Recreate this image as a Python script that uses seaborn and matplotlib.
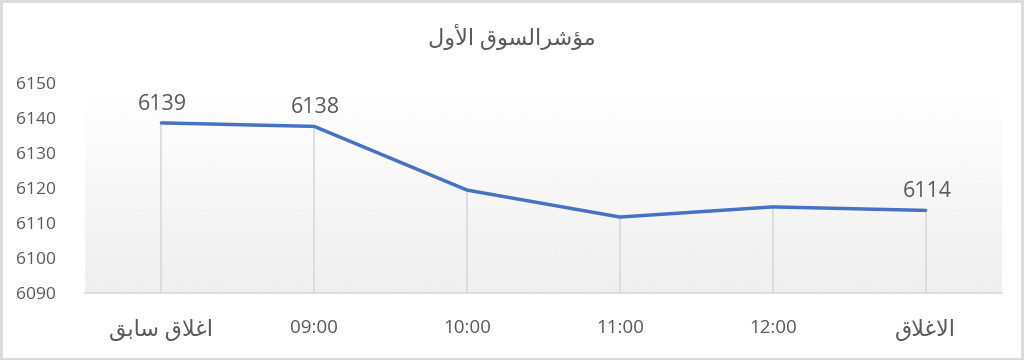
import numpy as np
import pandas as pd
import matplotlib
matplotlib.use("Agg")
import matplotlib.pyplot as plt
import seaborn as sns
from matplotlib.patches import Rectangle

# ---------------- data ----------------
categories = ["اغلاق سابق", "09:00", "10:00", "11:00", "12:00", "الاغلاق"]
values = [6138.6, 6137.6, 6119.4, 6111.7, 6114.6, 6113.6]
labelled_points = [0, 1, 5]
title_text = "مؤشرالسوق الأول"
y_ticks = [6090, 6100, 6110, 6120, 6130, 6140, 6150]

# ---------------- minimal Arabic shaping ----------------
FORMS = {
    'ا': ('\uFE8D', '\uFE8E', None, None),
    'أ': ('\uFE83', '\uFE84', None, None),
    'ب': ('\uFE8F', '\uFE90', '\uFE91', '\uFE92'),
    'ر': ('\uFEAD', '\uFEAE', None, None),
    'س': ('\uFEB1', '\uFEB2', '\uFEB3', '\uFEB4'),
    'ش': ('\uFEB5', '\uFEB6', '\uFEB7', '\uFEB8'),
    'غ': ('\uFECD', '\uFECE', '\uFECF', '\uFED0'),
    'ق': ('\uFED5', '\uFED6', '\uFED7', '\uFED8'),
    'ل': ('\uFEDD', '\uFEDE', '\uFEDF', '\uFEE0'),
    'م': ('\uFEE1', '\uFEE2', '\uFEE3', '\uFEE4'),
    'و': ('\uFEED', '\uFEEE', None, None),
    'ؤ': ('\uFE85', '\uFE86', None, None),
}
LAMALEF = {'ا': ('\uFEFB', '\uFEFC'), 'أ': ('\uFEF7', '\uFEF8')}


def is_arabic_text(text):
    return any(c in FORMS for c in text)


def shape(text):
    if not is_arabic_text(text):
        return text
    toks = []
    i = 0
    while i < len(text):
        c = text[i]
        if c == 'ل' and i + 1 < len(text) and text[i + 1] in LAMALEF:
            toks.append(('LA', text[i + 1]))
            i += 2
        else:
            toks.append(('C', c))
            i += 1

    def dual(t):
        return t[0] == 'C' and t[1] in FORMS and FORMS[t[1]][2] is not None

    def arabic(t):
        return t[0] == 'LA' or t[1] in FORMS

    out = []
    for k, t in enumerate(toks):
        prev_joins = k > 0 and dual(toks[k - 1]) and arabic(t)
        if t[0] == 'LA':
            iso, fin = LAMALEF[t[1]]
            out.append(fin if prev_joins else iso)
            continue
        c = t[1]
        if c not in FORMS:
            out.append(c)
            continue
        iso, fin, ini, med = FORMS[c]
        next_joins = (k + 1 < len(toks) and arabic(toks[k + 1]) and ini is not None)
        if prev_joins and next_joins:
            out.append(med)
        elif prev_joins:
            out.append(fin)
        elif next_joins:
            out.append(ini)
        else:
            out.append(iso)
    return "".join(out)[::-1]


# ---------------- style ----------------
sns.set_theme(style="white")
FAM = ["Open Sans", "DejaVu Sans"]
plt.rcParams["font.family"] = FAM
TXT = "#595959"

df = pd.DataFrame({"pos": np.arange(len(categories)), "value": values})

fig = plt.figure(figsize=(10.24, 3.6), dpi=100)
ax = fig.add_axes([85 / 1024, 1 - 293 / 360, (1002 - 85) / 1024, (293 - 83) / 360])

# gradient plot-area background
grad = np.linspace(1.0, 0.935, 256).reshape(-1, 1)
ax.imshow(grad, extent=[0, 1, 0, 1], transform=ax.transAxes, cmap="gray",
          vmin=0, vmax=1, aspect="auto", zorder=0, interpolation="bilinear")

# drop lines
ax.vlines(df["pos"], y_ticks[0], df["value"], color="#d9d9d9", lw=1.2, zorder=1)

sns.lineplot(data=df, x="pos", y="value", ax=ax, color="#4472C4", lw=2.5,
             zorder=3, legend=False)

for i in labelled_points:
    ax.annotate(f"{values[i]:.0f}", (df["pos"][i], values[i]), xytext=(1, 6),
                textcoords="offset points", ha="center", va="bottom",
                fontsize=15.5, color=TXT, family=FAM)

ax.set_xlim(-0.5, len(categories) - 0.5)
ax.set_ylim(y_ticks[0], y_ticks[-1])
ax.set_yticks(y_ticks)
ax.set_yticklabels([str(t) for t in y_ticks], fontsize=12.5, color=TXT)
ax.set_xticks(df["pos"])
ax.set_xticklabels([shape(c) for c in categories], fontsize=13.5, color=TXT)
for lbl, c in zip(ax.get_xticklabels(), categories):
    if is_arabic_text(c):
        lbl.set_fontsize(16)
ax.tick_params(axis="y", length=0, pad=21)
ax.tick_params(axis="x", length=0, pad=19)
ax.set_xlabel("")
ax.set_ylabel("")
ax.grid(False)
for s in ["top", "right", "left"]:
    ax.spines[s].set_visible(False)
ax.spines["bottom"].set_color("#d9d9d9")
ax.spines["bottom"].set_linewidth(1.2)
ax.spines["bottom"].set_zorder(2)

fig.text(0.5, 1 - 37 / 360, shape(title_text), ha="center", va="center",
         fontsize=16, color=TXT, family=FAM)

fig.patches.append(Rectangle((0.001, 0.002), 0.997, 0.995, transform=fig.transFigure,
                             fill=False, edgecolor="#d9d9d9", lw=2))

fig.savefig("out.png", dpi=100, facecolor="white")
